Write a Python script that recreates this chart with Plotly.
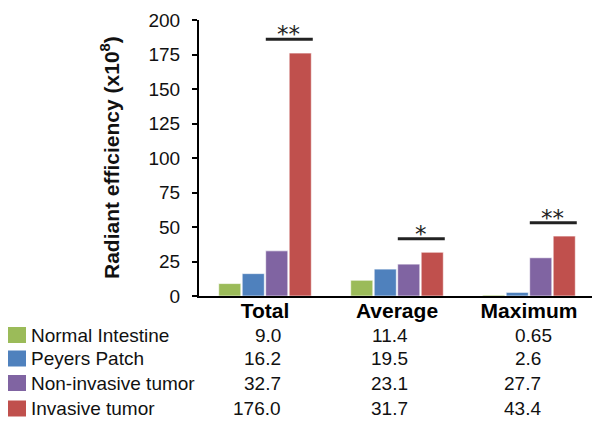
import plotly.graph_objects as go

# ---- data ----
categories = ["Total", "Average", "Maximum"]
series_names = ["Normal Intestine", "Peyers Patch", "Non-invasive tumor", "Invasive tumor"]
normal_intestine = [9.0, 11.4, 0.65]
peyers_patch = [16.2, 19.5, 2.6]
non_invasive = [32.7, 23.1, 27.7]
invasive = [176.0, 31.7, 43.4]
series_values = [normal_intestine, peyers_patch, non_invasive, invasive]
y_ticks = [0, 25, 50, 75, 100, 125, 150, 175, 200]
sig_labels = ["**", "*", "**"]
sig_heights = [186, 41.5, 53]

# ---- styles ----
colors = ["#9BBB59", "#4F81BD", "#8064A2", "#C0504D"]
FONT = "Liberation Sans, Arial, sans-serif"
W, H = 592, 421
ML, MR, MT, MB = 199, 0, 20, 125
PW = W - ML - MR
PH = H - MT - MB
CAT_PX = 132.0

def px_x(px):
    return (px - ML) / PW

def px_y(py):
    return (H - MB - py) / PH

def fmt(v):
    return f"{v:.1f}" if round(v, 1) == v else f"{v:g}"

fig = go.Figure()
for name, vals, col in zip(series_names, series_values, colors):
    fig.add_trace(go.Bar(
        x=categories, y=vals, name=name,
        marker=dict(color=col, line=dict(color="rgba(255,255,255,0.6)", width=1)),
        showlegend=False,
    ))

shapes = []
annotations = []
# significance bars
for i, (lab, h) in enumerate(zip(sig_labels, sig_heights)):
    shapes.append(dict(type="line", xref="x", yref="y", x0=i + 0.006, x1=i + 0.362,
                       y0=h, y1=h, line=dict(color="#222222", width=3)))
    annotations.append(dict(xref="x", yref="y", x=i + 0.18, y=h, text=lab,
                            showarrow=False, yanchor="middle", yshift=5,
                            font=dict(family="DejaVu Sans", size=23, color="#222222")))

# table rows
row_py = [335, 358.5, 383, 408.5]
col_right_px = [283, 410, 543]
cell_shift_px = [[0, 0, 11], [0, 0, 0], [0, 0, 0], [0, 0, 0]]
for r, (name, vals, col) in enumerate(zip(series_names, series_values, colors)):
    py = row_py[r]
    shapes.append(dict(type="rect", xref="paper", yref="paper",
                       x0=px_x(8), x1=px_x(26), y0=px_y(py + 8), y1=px_y(py - 8),
                       fillcolor=col, line=dict(width=0)))
    annotations.append(dict(xref="paper", yref="paper", x=px_x(29), y=px_y(py),
                            text=name, showarrow=False, xanchor="left", yanchor="middle",
                            font=dict(family=FONT, size=19, color="#111111")))
    for c, v in enumerate(vals):
        annotations.append(dict(xref="paper", yref="paper",
                                x=px_x(col_right_px[c] + cell_shift_px[r][c]), y=px_y(py),
                                text=fmt(v), showarrow=False, xanchor="right", yanchor="middle",
                                font=dict(family=FONT, size=19, color="#111111")))

# y-axis title
annotations.append(dict(xref="paper", yref="paper", x=px_x(110), y=0.5,
                        text="<b>Radiant efficiency (x10<sup>8</sup>)</b>", textangle=-90,
                        showarrow=False, xanchor="center", yanchor="middle",
                        font=dict(family=FONT, size=21, color="#111111")))

fig.update_layout(
    width=W, height=H,
    margin=dict(l=ML, r=MR, t=MT, b=MB, pad=0),
    paper_bgcolor="white", plot_bgcolor="white",
    barmode="group", bargap=0.288, bargroupgap=0.06,
    shapes=shapes, annotations=annotations,
    font=dict(family=FONT, size=19, color="#111111"),
)
fig.update_xaxes(
    range=[-0.5, -0.5 + PW / CAT_PX],
    showline=True, linecolor="black", linewidth=2,
    ticks="", showgrid=False, zeroline=False,
    ticklabelstandoff=-5,
    tickfont=dict(family=FONT, size=21, color="black"),
    tickvals=list(range(len(categories))), ticktext=[f"<b>{c}</b>" for c in categories],
)
fig.update_yaxes(
    range=[0, 200], tickvals=y_ticks,
    showline=True, linecolor="black", linewidth=2,
    ticks="outside", ticklen=5, tickwidth=2, tickcolor="black",
    ticklabelstandoff=8,
    showgrid=False, zeroline=False,
    tickfont=dict(family=FONT, size=19, color="#111111"),
)
fig.write_html("out.html", config={"displayModeBar": False},
               post_script="document.body.style.margin='0';document.body.style.overflow='hidden';")
